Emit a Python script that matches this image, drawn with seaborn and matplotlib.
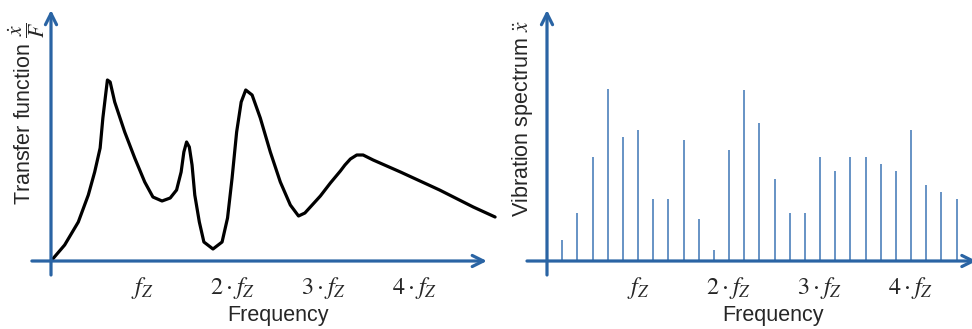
import numpy as np
import matplotlib
matplotlib.use('Agg')
import matplotlib.pyplot as plt
import seaborn as sns

# transfer function curve, x in multiples of f_Z, y in arbitrary units
curve_freq = [0.00, 0.15, 0.30, 0.41, 0.48, 0.54, 0.57, 0.60, 0.62, 0.65, 0.70, 0.81,
              0.92, 1.03, 1.12, 1.22, 1.31, 1.38, 1.43, 1.46, 1.49, 1.52, 1.55, 1.58,
              1.63, 1.68, 1.78, 1.88, 1.94, 1.99, 2.04, 2.09, 2.14, 2.21, 2.30, 2.41,
              2.52, 2.63, 2.72, 2.79, 2.85, 2.96, 3.07, 3.18, 3.23, 3.29, 3.36, 3.43,
              3.54, 3.84, 4.27, 4.64, 4.88]
curve_amp = [0, 16, 39, 66, 89, 113, 143, 166, 181, 179, 159, 129,
             103, 79, 64, 60, 63, 71, 89, 109, 119, 114, 96, 66,
             39, 19, 12, 19, 43, 83, 129, 159, 171, 166, 143, 109,
             79, 56, 45, 48, 54, 65, 78, 90, 96, 102, 106, 106,
             101, 89, 71, 54, 44]

# vibration spectrum lines, position in sixths of f_Z
stem_index = [1, 2, 3, 4, 5, 6, 7, 8, 9, 10, 11, 12, 13, 14, 15, 16, 17, 18,
              19, 20, 21, 22, 23, 24, 25, 26, 27]
stem_amp = [21, 48, 104, 172, 124, 131, 62, 62, 121, 42, 11, 111, 171, 138,
            82, 48, 48, 104, 90, 104, 104, 97, 90, 131, 76, 69, 62]

tick_values = [1, 2, 3, 4]
tick_labels = [r'$f_Z$', r'$2\cdot f_Z$', r'$3\cdot f_Z$', r'$4\cdot f_Z$']

axis_blue = '#2a64a4'
stem_blue = '#5b8ac0'
text_col = '#262626'

sns.set_style('white')
plt.rcParams['font.family'] = ['Liberation Sans', 'DejaVu Sans']
plt.rcParams['mathtext.fontset'] = 'stix'

fig = plt.figure(figsize=(9.72, 3.29), dpi=100)
W, H = 972, 329
ax1 = fig.add_axes([0, 0, 500 / W, 1])
ax2 = fig.add_axes([480 / W, 0, 492 / W, 1])

# left: transfer function
sns.lineplot(x=curve_freq, y=curve_amp, ax=ax1, color='black', lw=2.3,
             sort=False, estimator=None)
ax1.lines[-1].set_clip_on(False)
ax1.lines[-1].set_solid_joinstyle('round')

# right: spectrum lines
stem_freq = np.array(stem_index) / 6.0
ax2.vlines(stem_freq, 0, stem_amp, color=stem_blue, lw=1.3)

px = 91.0  # pixels per f_Z
for ax, x0, left, width in [(ax1, 51, 0, 500), (ax2, 547, 480, 492)]:
    ax.patch.set_visible(False)
    ax.set_xlim(-(x0 - left) / px, (left + width - x0) / px)
    ax.set_ylim(-68, 261)
    for s in ax.spines.values():
        s.set_visible(False)
    ax.spines['bottom'].set_position(('data', 0))
    ax.set_xticks(tick_values)
    ax.set_xticklabels(tick_labels, fontsize=17.5, color=text_col)
    ax.tick_params(axis='x', length=0, pad=10)
    ax.set_yticks([])
    arrow = dict(arrowstyle='->', lw=2.3, color=axis_blue, mutation_scale=20,
                 shrinkA=0, shrinkB=0)
    ax.annotate('', xy=(0, 251), xytext=(0, -14), arrowprops=arrow,
                annotation_clip=False)

ax1.annotate('', xy=(4.79, 0), xytext=(-0.21, 0),
             arrowprops=dict(arrowstyle='->', lw=2.3, color=axis_blue,
                             mutation_scale=20, shrinkA=0, shrinkB=0),
             annotation_clip=False)
ax2.annotate('', xy=(4.72, 0), xytext=(-0.22, 0),
             arrowprops=dict(arrowstyle='->', lw=2.3, color=axis_blue,
                             mutation_scale=20, shrinkA=0, shrinkB=0),
             annotation_clip=False)

ax1.set_xlabel('Frequency', fontsize=15.5, color=text_col, visible=True)
ax1.xaxis.set_label_coords(277.5 / 500, (329 - 316) / 329)
ax1.xaxis.label.set_va('center')
ax2.set_xlabel('Frequency', fontsize=15.5, color=text_col, visible=True)
ax2.xaxis.set_label_coords((772.5 - 480) / 492, (329 - 316) / 329)
ax2.xaxis.label.set_va('center')

ax1.set_ylabel(r'Transfer function $\dfrac{\dot{x}}{F}$', fontsize=15.5,
               color=text_col, va='center', visible=True)
ax1.yaxis.set_label_coords(27 / 500, (329 - 113) / 329)
ax2.set_ylabel(r'Vibration spectrum $\ddot{x}$', fontsize=15.5,
               color=text_col, va='center', visible=True)
ax2.yaxis.set_label_coords((522 - 480) / 492, (329 - 119) / 329)

fig.savefig('out.png', dpi=100)
